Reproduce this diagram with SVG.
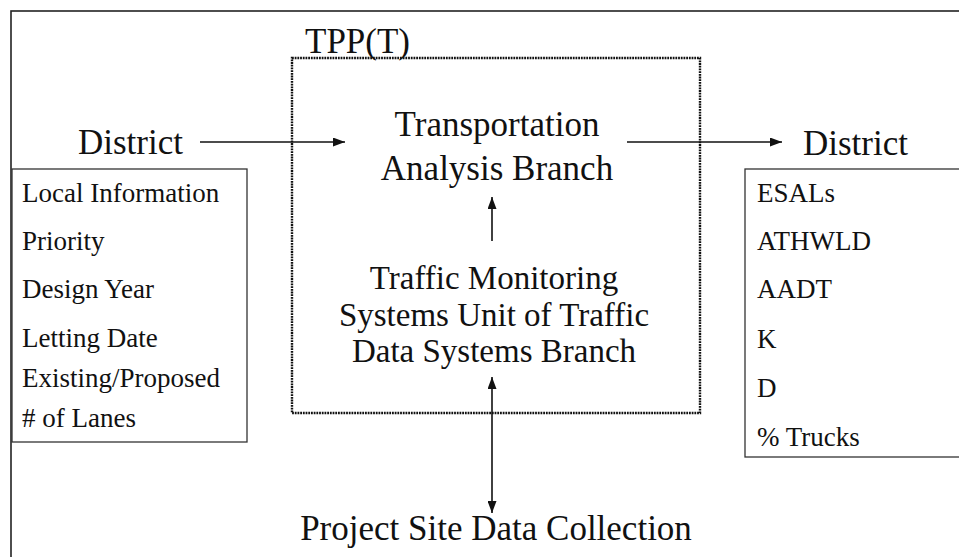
<svg xmlns="http://www.w3.org/2000/svg" width="959" height="557" viewBox="0 0 959 557">
<style>
text{font-family:"Liberation Serif","Times New Roman","DejaVu Serif",serif;fill:#111;}
.big{font-size:35px;}
.mid{font-size:33px;}
.item{font-size:27px;}
.frame{fill:none;stroke:#222;stroke-width:1.6;}
.box{fill:#fff;stroke:#333;stroke-width:1.3;}
.dot{fill:none;stroke:#111;stroke-width:2.4;stroke-dasharray:1.8 0.9;}
.conn{stroke:#111;stroke-width:1.6;fill:none;}
</style>
<defs>
<marker id="ah" viewBox="0 0 12 9" refX="12" refY="4.5" markerWidth="12" markerHeight="9" markerUnits="userSpaceOnUse" orient="auto-start-reverse">
<path d="M0,0 L12,4.5 L0,9 Z" fill="#111"/>
</marker>
</defs>
<rect width="959" height="557" fill="#fff"/>
<g id="outer-frame"><rect class="frame" x="11" y="11" width="1000" height="600"/></g>
<g id="tppt" font-family="Liberation Serif, serif">
<rect class="dot" x="292" y="58" width="408" height="355"/>
<text class="big" x="305" y="53">TPP(T)</text>
</g>
<g id="district-in" font-family="Liberation Serif, serif"><text class="big" x="78" y="154">District</text></g>
<g id="district-out" font-family="Liberation Serif, serif"><text class="big" x="803" y="155">District</text></g>
<g id="tab" font-family="Liberation Serif, serif">
<text class="big" x="497" y="136" text-anchor="middle">Transportation</text>
<text class="big" x="497" y="180" text-anchor="middle">Analysis Branch</text>
</g>
<g id="tms" font-family="Liberation Serif, serif">
<text class="mid" x="494" y="289" text-anchor="middle">Traffic Monitoring</text>
<text class="mid" x="494" y="325.5" text-anchor="middle">Systems Unit of Traffic</text>
<text class="mid" x="494" y="362" text-anchor="middle">Data Systems Branch</text>
</g>
<g id="project-site" font-family="Liberation Serif, serif"><text class="big" x="496" y="540" text-anchor="middle">Project Site Data Collection</text></g>
<g id="input-list" font-family="Liberation Serif, serif">
<rect class="box" x="12" y="169" width="235" height="273"/>
<text class="item" x="22" y="202">Local Information</text>
<text class="item" x="22" y="250">Priority</text>
<text class="item" x="22" y="298">Design Year</text>
<text class="item" x="22" y="347">Letting Date</text>
<text class="item" x="22" y="387">Existing/Proposed</text>
<text class="item" x="22" y="427"># of Lanes</text>
</g>
<g id="output-list" font-family="Liberation Serif, serif">
<rect class="box" x="745" y="169" width="300" height="288"/>
<text class="item" x="757" y="202">ESALs</text>
<text class="item" x="757" y="250">ATHWLD</text>
<text class="item" x="757" y="298">AADT</text>
<text class="item" x="757" y="348">K</text>
<text class="item" x="757" y="397">D</text>
<text class="item" x="757" y="446">% Trucks</text>
</g>
<g id="connectors">
<line class="conn" x1="200" y1="142" x2="345" y2="142" marker-end="url(#ah)"/>
<line class="conn" x1="627" y1="142" x2="782" y2="142" marker-end="url(#ah)"/>
<line class="conn" x1="492" y1="241" x2="492" y2="197" marker-end="url(#ah)"/>
<line class="conn" x1="492" y1="377" x2="492" y2="513" marker-start="url(#ah)" marker-end="url(#ah)"/>
</g>
</svg>
